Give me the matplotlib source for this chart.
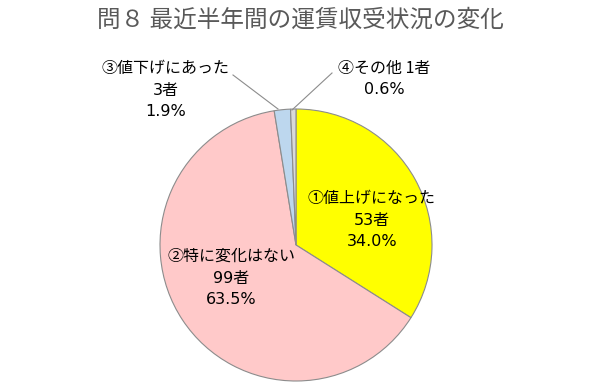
import matplotlib
matplotlib.use("Agg")
import matplotlib.pyplot as plt

plt.rcParams['font.family'] = ['Noto Sans CJK JP', 'DejaVu Sans']

title = "問８ 最近半年間の運賃収受状況の変化"
categories = ["①値上げになった", "②特に変化はない", "③値下げにあった", "④その他"]
counts = [53, 99, 3, 1]
percents = ["34.0%", "63.5%", "1.9%", "0.6%"]
colors = ["#FFFF00", "#FFC9C9", "#BDD7EE", "#D9D9D9"]

W, H = 600, 391
CX, CY, R = 296, 245, 136

def px(x, y):
    return ((x - CX) / R, (CY - y) / R)

fig = plt.figure(figsize=(W / 100, H / 100), dpi=100)
ax = fig.add_axes([0, 0, 1, 1])
ax.pie(counts, colors=colors, startangle=90, counterclock=False, radius=1,
       wedgeprops=dict(edgecolor="#8C8C8C", linewidth=0.8))
ax.set_xlim(-CX / R, (W - CX) / R)
ax.set_ylim((CY - H) / R, CY / R)
ax.set_aspect('equal', adjustable='datalim')
ax.axis('off')

fig.text(0.5, 1 - 20 / H, title, ha='center', va='center', fontsize=17,
         color='#595959')

fs = 11.5
numfam = ['DejaVu Sans', 'Noto Sans CJK JP']
lab = [
    ([categories[0], f"{counts[0]}者", percents[0]], (372, 220)),
    ([categories[1], f"{counts[1]}者", percents[1]], (231, 278)),
    ([categories[2], f"{counts[2]}者", percents[2]], (166, 90)),
    ([f"{categories[3]} {counts[3]}者", percents[3]], (384, 79)),
]
step = 22
for lines, (x, y) in lab:
    n = len(lines)
    for i, line in enumerate(lines):
        yy = y + (i - (n - 1) / 2) * step
        if i == 0:
            fam = ['Noto Sans CJK JP', 'DejaVu Sans']
        else:
            fam = numfam
        ax.text(*px(x, yy), line, ha='center', va='center', fontsize=fs,
                family=fam, color='black')

# leader lines
ax.plot(*zip(px(233, 75), px(278, 109)), color='#8C8C8C', lw=0.8)
ax.plot(*zip(px(332, 73), px(292, 110)), color='#8C8C8C', lw=0.8)

fig.savefig("out.png", dpi=100)
